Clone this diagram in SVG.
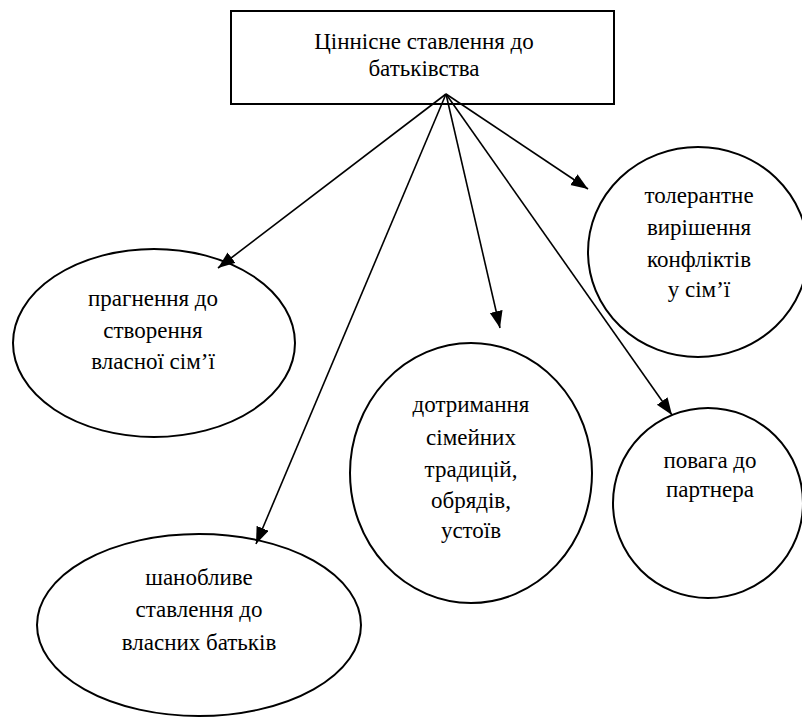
<svg xmlns="http://www.w3.org/2000/svg" width="802" height="717" viewBox="0 0 802 717">
<defs>
<marker id="ah" markerUnits="userSpaceOnUse" markerWidth="18" markerHeight="14" refX="17" refY="6.5" orient="auto">
<path d="M0,0 L17,6.5 L0,13 z" fill="#000"/>
</marker>
<style>
.shape{fill:#fff;stroke:#000;stroke-width:2}
text{font-family:'Liberation Serif','Times New Roman',serif;font-size:23px;fill:#000;text-anchor:middle}
.c{stroke:#000;stroke-width:1.6;fill:none;marker-end:url(#ah)}
</style>
</defs>
<rect width="802" height="717" fill="#fff"/>
<g id="root">
<rect class="shape" x="231" y="11" width="383" height="93"/>
<text x="424" y="49">Ціннісне ставлення до</text>
<text x="424" y="76">батьківства</text>
</g>
<g id="n1">
<ellipse class="shape" cx="154" cy="343" rx="141" ry="94"/>
<text x="153" y="306">прагнення до</text>
<text x="153" y="338">створення</text>
<text x="153" y="369">власної сім’ї</text>
</g>
<g id="n2">
<ellipse class="shape" cx="199" cy="625" rx="162" ry="91"/>
<text x="199" y="585">шанобливе</text>
<text x="199" y="617">ставлення до</text>
<text x="199" y="650">власних батьків</text>
</g>
<g id="n3">
<ellipse class="shape" cx="471" cy="473" rx="121" ry="130"/>
<text x="471" y="412">дотримання</text>
<text x="471" y="445">сімейних</text>
<text x="471" y="477">традицій,</text>
<text x="471" y="508">обрядів,</text>
<text x="471" y="538">устоїв</text>
</g>
<g id="n4">
<ellipse class="shape" cx="698" cy="252" rx="110" ry="105"/>
<text x="699" y="203">толерантне</text>
<text x="699" y="235">вирішення</text>
<text x="699" y="267">конфліктів</text>
<text x="699" y="297">у сім’ї</text>
</g>
<g id="n5">
<ellipse class="shape" cx="708" cy="503" rx="95" ry="95"/>
<text x="710" y="468">повага до</text>
<text x="710" y="497">партнера</text>
</g>
<g id="connectors">
<line class="c" x1="446" y1="94" x2="218" y2="268"/>
<line class="c" x1="446" y1="94" x2="256" y2="544"/>
<line class="c" x1="446" y1="94" x2="500" y2="328"/>
<line class="c" x1="446" y1="94" x2="588" y2="189"/>
<line class="c" x1="446" y1="94" x2="672" y2="415"/>
</g>
</svg>
